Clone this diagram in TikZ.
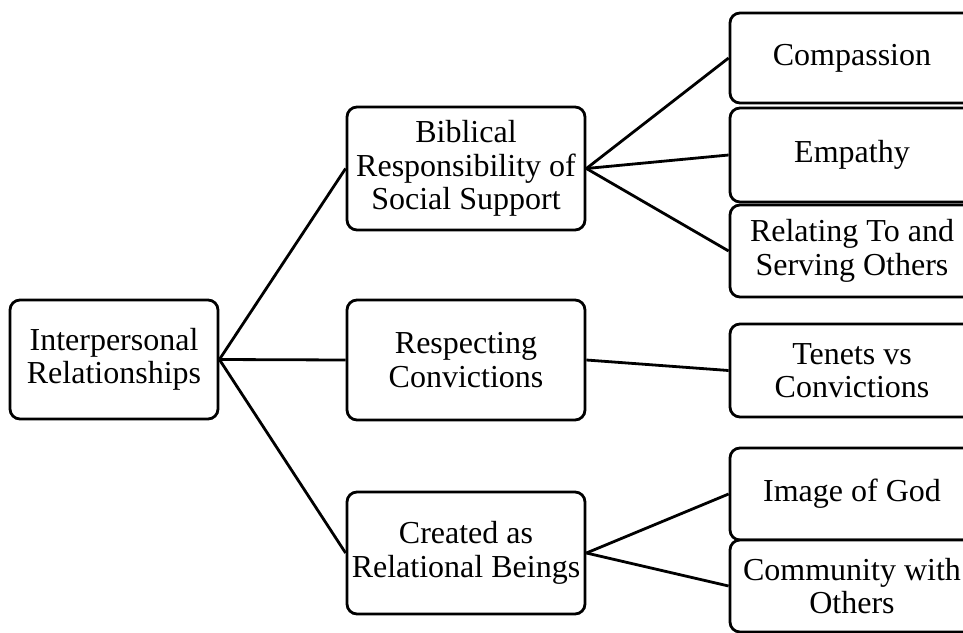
\documentclass[tikz,border=0pt]{standalone}
\usepackage{fontspec}
\setmainfont{Liberation Serif}
\begin{document}
\begin{tikzpicture}[x=0.75pt, y=-0.75pt,
  box/.style={draw=black, line width=2.1pt, rounded corners=7.5pt, fill=white,
    align=center, inner sep=0pt, font=\fontsize{24}{25}\selectfont},
  link/.style={draw=black, line width=2.1pt}]
  \useasboundingbox (0,0) rectangle (963,632);
  \clip (0,0) rectangle (963,632);
  \fill[white] (0,0) rectangle (963,632);

  % root
  \node[box, minimum width=156pt, minimum height=89.25pt] (root) at (114,359.5)
    {Interpersonal\\Relationships};

  % middle column
  \node[box, minimum width=178.5pt, minimum height=92.25pt] (bib) at (466,168.5)
    {Biblical\\Responsibility of\\Social Support};
  \node[box, minimum width=178.5pt, minimum height=90pt] (resp) at (466,360)
    {Respecting\\Convictions};
  \node[box, minimum width=178.5pt, minimum height=91.5pt] (crea) at (466,553)
    {Created as\\Relational Beings};

  % right column
  \node[box, minimum width=183pt, minimum height=67.5pt] (comp) at (852,58)
    {Compassion};
  \node[box, minimum width=183pt, minimum height=70.5pt] (emp) at (852,155)
    {Empathy};
  \node[box, minimum width=183pt, minimum height=69pt] (rel) at (852,251)
    {Relating To and\\Serving Others};
  \node[box, minimum width=183pt, minimum height=69.75pt] (ten) at (852,370.5)
    {Tenets vs\\Convictions};
  \node[box, minimum width=183pt, minimum height=69pt] (img) at (852,494)
    {Image of God};
  \node[box, minimum width=183pt, minimum height=69pt] (comm) at (852,586)
    {Community with\\Others};

  % connectors
  \draw[link] (root.east) -- (bib.west);
  \draw[link] (root.east) -- (resp.west);
  \draw[link] (root.east) -- (crea.west);
  \draw[link] (bib.east) -- (comp.west);
  \draw[link] (bib.east) -- (emp.west);
  \draw[link] (bib.east) -- (rel.west);
  \draw[link] (resp.east) -- (ten.west);
  \draw[link] (crea.east) -- (img.west);
  \draw[link] (crea.east) -- (comm.west);
\end{tikzpicture}
\end{document}
